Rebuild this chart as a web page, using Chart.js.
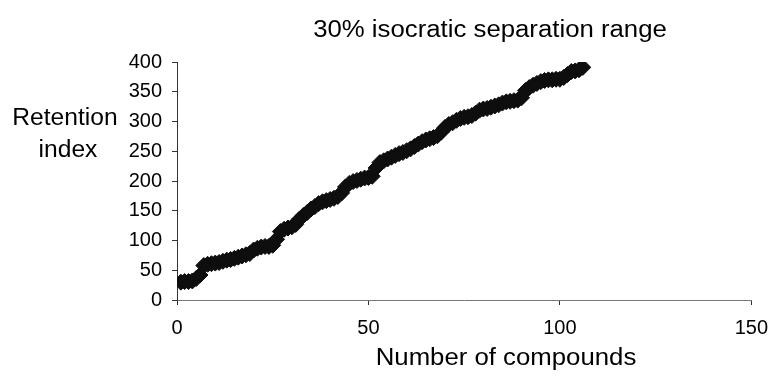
<!DOCTYPE html>
<html>
<head>
<meta charset="utf-8">
<script src="https://cdn.jsdelivr.net/npm/chart.js@4/dist/chart.umd.min.js"></script>
<style>
  html, body { margin: 0; padding: 0; background: #fff; }
  #wrap { width: 779px; height: 377px; position: relative; }
</style>
</head>
<body>
<div id="wrap"><canvas id="retentionChart" width="779" height="377"></canvas></div>
<script>
const CHART_TITLE = "30% isocratic separation range";
const X_TITLE = "Number of compounds";
const Y_TITLE = ["Retention", "index"];

// compound number (rank) on x
const compoundNo = [
    1, 2, 3, 4, 5, 6, 7, 8, 9, 10, 11, 12, 13, 14, 15, 16, 17, 18, 19, 20,
    21, 22, 23, 24, 25, 26, 27, 28, 29, 30, 31, 32, 33, 34, 35, 36, 37, 38, 39, 40,
    41, 42, 43, 44, 45, 46, 47, 48, 49, 50, 51, 52, 53, 54, 55, 56, 57, 58, 59, 60,
    61, 62, 63, 64, 65, 66, 67, 68, 69, 70, 71, 72, 73, 74, 75, 76, 77, 78, 79, 80,
    81, 82, 83, 84, 85, 86, 87, 88, 89, 90, 91, 92, 93, 94, 95, 96, 97, 98, 99, 100,
    101, 102, 103, 104, 105, 106
];

// retention index (sorted)
const retentionIndex = [
    30, 31, 31, 32, 36, 42, 58, 60, 61, 62, 63, 65, 67, 68, 70, 72, 74, 76, 78, 84,
    87, 89, 90, 90, 92, 102, 115, 119, 121, 123, 127, 136, 142, 147, 153, 157, 162, 165, 167, 169,
    171, 174, 180, 190, 196, 199, 201, 203, 205, 206, 208, 222, 231, 234, 237, 240, 243, 246, 248, 251,
    254, 258, 262, 266, 269, 271, 273, 276, 282, 290, 295, 298, 302, 305, 307, 308, 310, 314, 319, 321,
    322, 324, 326, 328, 331, 333, 334, 335, 336, 340, 352, 357, 361, 364, 367, 369, 370, 370, 371, 371,
    374, 379, 384, 385, 387, 391
];

const xTicks = [0, 50, 100, 150];
const yTicks = [0, 50, 100, 150, 200, 250, 300, 350, 400];

const points = compoundNo.map((n, i) => ({ x: n, y: retentionIndex[i] }));

// titles drawn as text on the canvas (the scan is a bit wider than normal Arial)
const titlesPlugin = {
    id: "titles",
    afterDraw(chart) {
        const ctx = chart.ctx;
        ctx.save();
        ctx.fillStyle = "#000";
        ctx.textAlign = "center";
        ctx.textBaseline = "alphabetic";
        ctx.font = "23px 'Liberation Sans', Arial, sans-serif";

        ctx.save();
        ctx.translate(490, 37);
        ctx.scale(1.12, 1);
        ctx.fillText(CHART_TITLE, 0, 0);
        ctx.restore();

        ctx.save();
        ctx.translate(506, 365);
        ctx.scale(1.12, 1);
        ctx.fillText(X_TITLE, 0, 0);
        ctx.restore();

        ctx.font = "23px 'Liberation Sans', Arial, sans-serif";
        ctx.save();
        ctx.translate(65, 125);
        ctx.scale(1.07, 1);
        ctx.fillText(Y_TITLE[0], 0, 0);
        ctx.restore();
        ctx.save();
        ctx.translate(68, 157);
        ctx.scale(1.07, 1);
        ctx.fillText(Y_TITLE[1], 0, 0);
        ctx.restore();

        ctx.restore();
    }
};

let ctx = document.getElementById("retentionChart").getContext("2d");
let retentionChart = new Chart(ctx, {
    type: "scatter",
    data: {
        datasets: [{
            label: "Retention index",
            data: points,
            pointStyle: "rectRot",
            pointRadius: 8,
            pointBackgroundColor: "#0e0e0e",
            pointBorderColor: "#0e0e0e",
            pointBorderWidth: 1
        }]
    },
    options: {
        responsive: false,
        animation: false,
        events: [],
        layout: { padding: { top: 62, right: 21, left: 0, bottom: 0 } },
        plugins: {
            legend: { display: false },
            title: { display: false },
            tooltip: { enabled: false }
        },
        scales: {
            x: {
                type: "linear",
                min: 0,
                max: 150,
                afterBuildTicks: axis => { axis.ticks = xTicks.map(v => ({ value: v })); },
                afterFit: axis => { axis.height = 77; },
                border: { display: true, color: "#777", width: 1 },
                grid: { drawOnChartArea: false, drawTicks: true, tickLength: 5, color: "#333" },
                ticks: {
                    color: "#000",
                    padding: 11,
                    maxRotation: 0,
                    font: { family: "'Liberation Sans', Arial, sans-serif", size: 20 }
                }
            },
            y: {
                type: "linear",
                min: 0,
                max: 400,
                afterBuildTicks: axis => { axis.ticks = yTicks.map(v => ({ value: v })); },
                afterFit: axis => { axis.width = 177; },
                border: { display: true, color: "#333", width: 1 },
                grid: { drawOnChartArea: false, drawTicks: true, tickLength: 5, color: "#333" },
                ticks: {
                    color: "#000",
                    padding: 10,
                    font: { family: "'Liberation Sans', Arial, sans-serif", size: 20 }
                }
            }
        }
    },
    plugins: [titlesPlugin]
});
</script>
</body>
</html>
